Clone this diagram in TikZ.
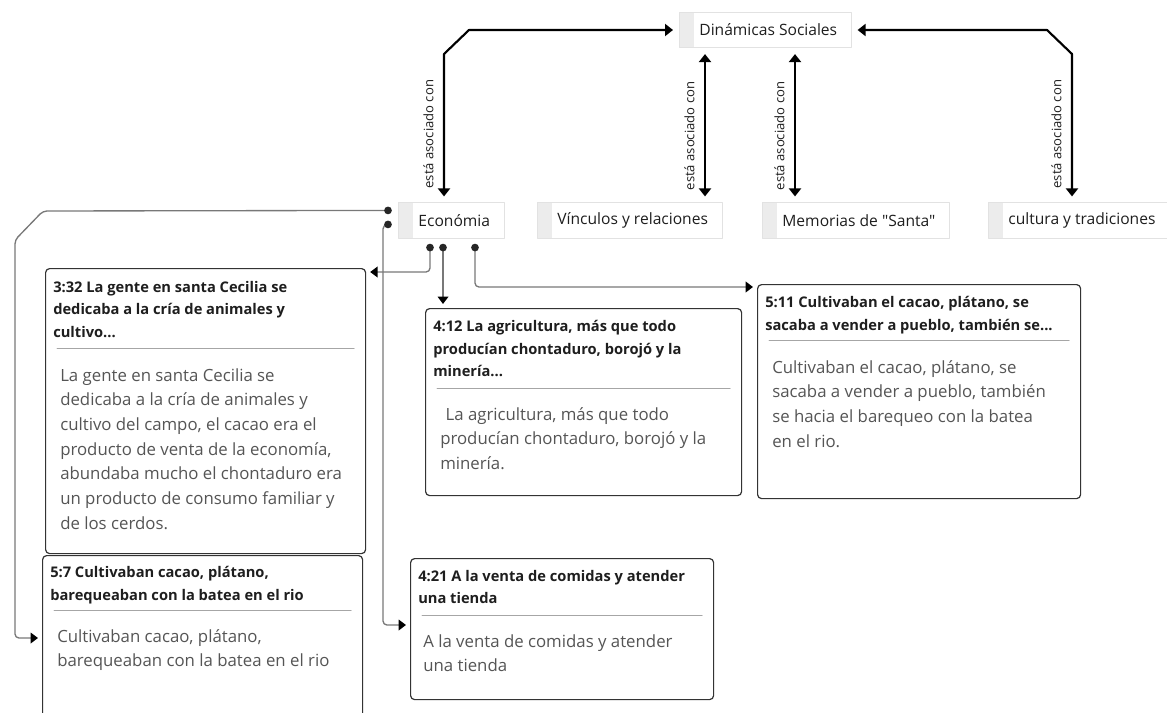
\documentclass[tikz,border=0pt]{standalone}
\usepackage{fontspec}
\setmainfont{Open Sans}[Ligatures=TeXOff]
\usetikzlibrary{arrows.meta,calc}
\definecolor{linkgray}{RGB}{120,120,120}
\definecolor{stripgray}{RGB}{236,236,236}
\definecolor{framegray}{RGB}{226,226,226}
\definecolor{bodygray}{RGB}{85,85,85}
\definecolor{titleblack}{RGB}{30,30,30}
\tikzset{
  concept/.style={draw=framegray, line width=0.6pt, fill=white, anchor=west,
    minimum height=26.5pt, inner xsep=10.5pt, inner ysep=0pt,
    font=\fontsize{11.7}{14}\selectfont, text=titleblack,
    execute at begin node={\hspace*{4.5pt}},
    path picture={\fill[stripgray] (path picture bounding box.south west) rectangle ([xshift=11pt]path picture bounding box.north west);}},
  quote/.style={draw=black!80, line width=0.9pt, rounded corners=3pt, anchor=north west, inner sep=0pt, fill=white},
  qtitle/.style={anchor=north west, inner sep=0pt, align=left, text=titleblack, font=\bfseries\fontsize{11}{16.9}\selectfont},
  qbody/.style={anchor=north west, inner sep=0pt, align=left, text=bodygray, font=\fontsize{12.6}{18.5}\selectfont},
  qrule/.style={draw=black!35, line width=0.7pt},
  assoc/.style={draw=black, line width=1.6pt, shorten <=4.5pt, shorten >=4.5pt},
  assoclabel/.style={font=\fontsize{9.8}{12}\selectfont, text=titleblack, sloped, above=6.5pt, inner sep=0.5pt},
  link/.style={draw=linkgray, line width=1pt, rounded corners=3pt, shorten >=3pt, -{Triangle[width=8pt,length=5.5pt,black]}},
  linkdot/.style={fill=black!85}
}
\begin{document}
\begin{tikzpicture}[x=0.75pt,y=-0.75pt,line cap=round,line join=round,>={Triangle[width=9pt,length=6pt]}]
\useasboundingbox (0,0) rectangle (1167,713);
\clip (0,0) rectangle (1167,713);

\node[concept] (dyn) at (679,30) {Dinámicas Sociales};
\node[concept] (eco) at (398,220.5) {Económia};
\node[concept] (vinc) at (537,220.5) {Vínculos y relaciones};
\node[concept] (mem) at (762,220.5) {Memorias de "Santa"};
\node[concept] (cult) at (988,220.5) {cultura y tradiciones};

\draw[assoc,<->] (eco.north -| 444,0) -- node[assoclabel,pos=0.46] {está asociado con} (444,54) -- (469,30) -- (dyn.west);
\draw[assoc,<->] (vinc.north -| 705,0) -- node[assoclabel,pos=0.43] {está asociado con} (dyn.south -| 705,0);
\draw[assoc,<->] (mem.north -| 795,0) -- node[assoclabel,pos=0.43] {está asociado con} (dyn.south -| 795,0);
\draw[assoc,<->] (cult.north -| 1072,0) -- node[assoclabel,pos=0.46] {está asociado con} (1072,54) -- (1047,30) -- (dyn.east);

\node[quote, minimum width=240pt, minimum height=213.75pt] (q332) at (45,268) {};
\node[qtitle] (q332t) at ($(q332.north west)+(8,13)$) {3:32 La gente en santa Cecilia se\\dedicaba a la cría de animales y\\cultivo...};
\draw[qrule] ($(q332.north west)+(12,80)$) -- ($(q332.north east)+(-12,80)$);
\node[qbody] (q332b) at ($(q332.north west)+(15,100)$) {La gente en santa Cecilia se\\dedicaba a la cría de animales y\\cultivo del campo, el cacao era el\\producto de venta de la economía,\\abundaba mucho el chontaduro era\\un producto de consumo familiar y\\de los cerdos.};

\node[quote, minimum width=237pt, minimum height=140.25pt] (q412) at (425,308) {};
\node[qtitle] (q412t) at ($(q412.north west)+(8,12)$) {4:12 La agricultura, más que todo\\producían chontaduro, borojó y la\\minería...};
\draw[qrule] ($(q412.north west)+(12,80)$) -- ($(q412.north east)+(-12,80)$);
\node[qbody] (q412b) at ($(q412.north west)+(15,99)$) {\hspace*{4pt}La agricultura, más que todo\\producían chontaduro, borojó y la\\minería.};

\node[quote, minimum width=242.25pt, minimum height=160.5pt] (q511) at (757,284) {};
\node[qtitle] (q511t) at ($(q511.north west)+(8,12)$) {5:11 Cultivaban el cacao, plátano, se\\sacaba a vender a pueblo, también se...};
\draw[qrule] ($(q511.north west)+(12,56)$) -- ($(q511.north east)+(-12,56)$);
\node[qbody] (q511b) at ($(q511.north west)+(15,76)$) {Cultivaban el cacao, plátano, se\\sacaba a vender a pueblo, también\\se hacia el barequeo con la batea\\en el rio.};

\node[quote, minimum width=240pt, minimum height=150pt] (q57) at (42,555) {};
\node[qtitle] (q57t) at ($(q57.north west)+(8,11)$) {5:7 Cultivaban cacao, plátano,\\barequeaban con la batea en el rio};
\draw[qrule] ($(q57.north west)+(12,55)$) -- ($(q57.north east)+(-12,55)$);
\node[qbody] (q57b) at ($(q57.north west)+(15,74)$) {Cultivaban cacao, plátano,\\barequeaban con la batea en el rio};

\node[quote, minimum width=227.25pt, minimum height=105.75pt] (q421) at (410,558) {};
\node[qtitle] (q421t) at ($(q421.north west)+(8,12)$) {4:21 A la venta de comidas y atender\\una tienda};
\draw[qrule] ($(q421.north west)+(12,57)$) -- ($(q421.north east)+(-12,57)$);
\node[qbody] (q421b) at ($(q421.north west)+(13,76)$) {A la venta de comidas y atender\\una tienda};

\coordinate (ecoL1) at ($(eco.north west)+(-10,8)$);
\coordinate (ecoL2) at ($(eco.north west)+(-10,22)$);
\coordinate (ecoB1) at ($(eco.south west)+(32,9)$);
\coordinate (ecoB2) at ($(eco.south west)+(45,9)$);
\coordinate (ecoB3) at ($(eco.south west)+(77,9)$);

\draw[link] (ecoL1) -- (43,211) -- (15,240) -- (15,638) -- (q57.west |- 0,638);
\draw[link] (ecoL2) -- (383,225) -- (383,625) -- (q421.west |- 0,625);
\draw[link] (ecoB1) -- (430,272) -- (q332.east |- 0,272);
\draw[link] (ecoB2) -- (q412.north -| ecoB2);
\draw[link] (ecoB3) -- (475,287) -- (q511.west |- 0,287);
\foreach \d in {ecoL1,ecoL2,ecoB1,ecoB2,ecoB3}
  \fill[linkdot] (\d) circle (2.9pt);
\end{tikzpicture}
\end{document}
